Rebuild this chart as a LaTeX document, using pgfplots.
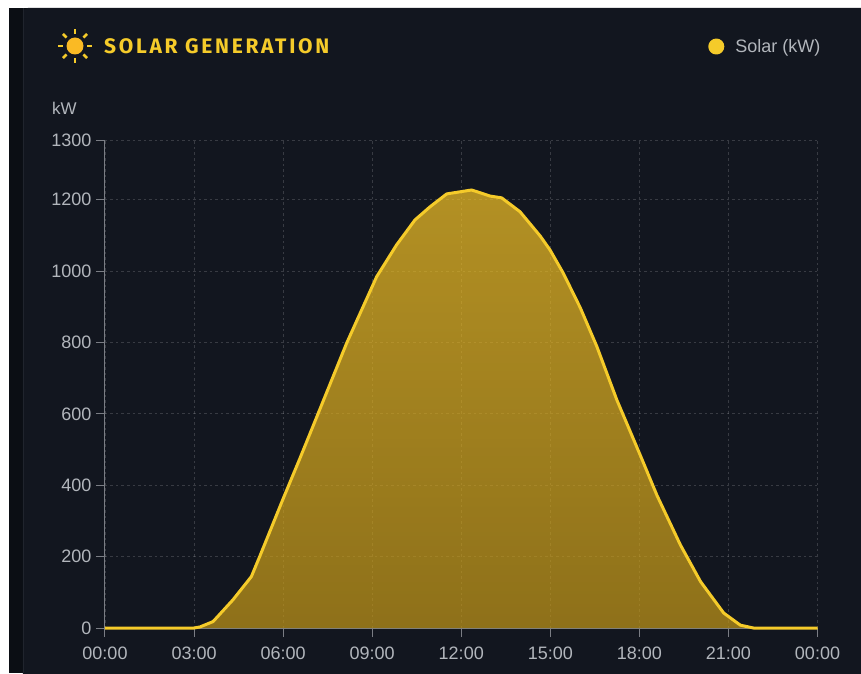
\documentclass[border=0pt]{standalone}
\usepackage{fontspec}
\usepackage{pgfplots}
\usepackage{pgfplotstable}
\pgfplotsset{compat=1.18}
\setmainfont{Liberation Sans}
\newfontfamily\titlefont[LetterSpace=12.8]{Fira Sans}

\definecolor{panel}{RGB}{18,22,31}
\definecolor{strip}{RGB}{11,14,20}
\definecolor{edge}{RGB}{32,36,45}
\definecolor{sun}{RGB}{245,203,42}
\definecolor{sundisc}{RGB}{250,186,36}
\definecolor{ticktxt}{RGB}{178,182,188}
\definecolor{axisgray}{RGB}{122,125,132}
\definecolor{filltop}{RGB}{248,197,38}
\definecolor{fillbot}{RGB}{196,152,24}

% hour of day, kW
\pgfplotstableread{
h kw
0 0
3 0
3.2 3
3.64 18
4.31 79
4.93 144
5.21 200
6.0 362
6.56 474
7.01 566
7.37 640
8.14 798
9.15 984
9.82 1073
10.44 1143
10.95 1180
11.51 1216
12.35 1227
12.97 1210
13.36 1205
13.98 1166
14.32 1132
14.66 1098
14.99 1059
15.43 995
16.01 897
16.57 788
17.24 639
18.03 484
18.59 372
19.38 233
20.06 130
20.84 42
21.4 8
21.84 0
24 0
}\solar

\begin{document}
\begin{tikzpicture}[x=1pt,y=1pt]
% page = 861x673, origin at the axis corner
\path[use as bounding box,fill=white] (-105,-45) rectangle (756,628);
\fill[strip] (-96,-45) rectangle (756,620);
\fill[panel,rounded corners=5pt] (-82,-60) rectangle (770,620);
\draw[edge,line width=0.8pt,rounded corners=5pt] (-82,-45) -- (-82,620);

\begin{axis}[
    at={(0,0)},
    anchor=origin,
    scale only axis,
    width=712.5pt,
    height=488pt,
    xmin=0, xmax=24,
    ymin=0, ymax=1367,
    clip=false,
    axis lines*=left,
    axis line style={axisgray,line width=1pt},
    tick align=outside,
    major tick length=9pt,
    tick style={axisgray,line width=1pt},
    xtick={0,3,...,24},
    xticklabels={00:00,03:00,06:00,09:00,12:00,15:00,18:00,21:00,00:00},
    ytick={0,200,400,600,800,1000,1200,1367},
    yticklabels={0,200,400,600,800,1000,1200,1300},
    ticklabel style={font=\fontsize{18}{20}\selectfont,text=ticktxt},
    xticklabel style={yshift=-6pt},
    yticklabel style={xshift=-1pt},
    grid=major,
    grid style={white,opacity=0.16,line width=0.8pt,dash pattern=on 2.5pt off 3pt},
    legend style={
        at={(1,1)},anchor=south east,
        xshift=8pt,yshift=82pt,
        draw=none,fill=none,
        font=\fontsize{18}{20}\selectfont,
        text=ticktxt,
    },
    legend cell align=left,
    legend image code/.code={\fill[sun] (0,0) circle (6.5pt);},
]
\addplot[draw=none,shade,top color=filltop,bottom color=fillbot,fill opacity=0.7,forget plot]
    table[x=h,y=kw]{\solar} \closedcycle;
\addplot[sun,line width=3pt,line join=round,line cap=butt] table[x=h,y=kw]{\solar};
\addlegendentry{\hspace{9pt}Solar (kW)}
\end{axis}

% kW unit above the value axis
\node[anchor=base west,inner sep=0pt,text=ticktxt,font=\fontsize{17}{20}\selectfont] at (-53,513) {kW};

% title with sun icon
\fill[sundisc] (-30,582) circle (8.5pt);
\foreach \a in {0,45,...,315}
    \draw[sun,line width=2.6pt] (-30,582)++(\a:12) -- ++(\a:5);
\node[anchor=base west,inner sep=0pt,text=sun,font=\titlefont\fontsize{21}{24}\selectfont\bfseries]
    at (-1,574) {SOLAR GENERATION};
\end{tikzpicture}
\end{document}
